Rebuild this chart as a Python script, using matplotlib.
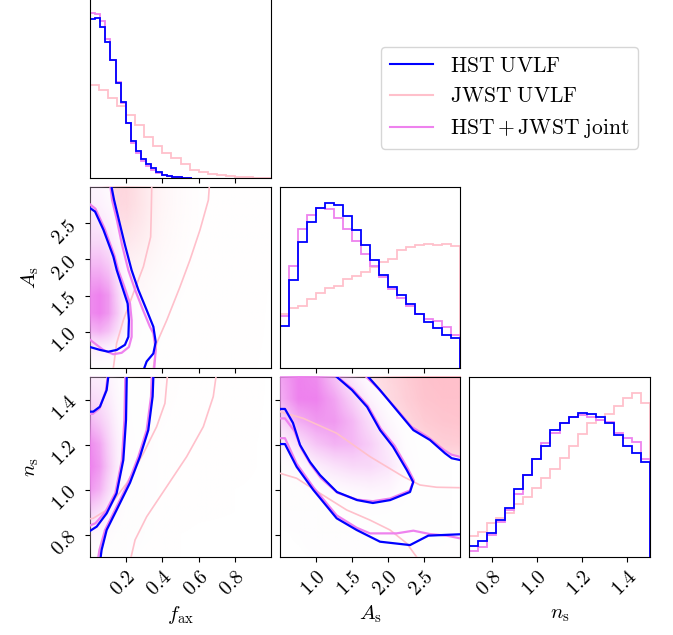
import numpy as np
import matplotlib
matplotlib.use("Agg")
import matplotlib.pyplot as plt
from matplotlib.colors import LinearSegmentedColormap, to_rgba
from matplotlib.image import NonUniformImage
from matplotlib.lines import Line2D
from matplotlib.ticker import FixedLocator, NullLocator, FuncFormatter

plt.rcParams['mathtext.fontset'] = 'cm'

BLUE, PINK, VIOLET = 'blue', 'pink', 'violet'

# parameter ranges and ticks
f_ax_range = (0.0, 1.0)
A_s_range = (0.5, 3.0)
n_s_range = (0.7, 1.5)
f_ax_ticks = [0.2, 0.4, 0.6, 0.8]
A_s_ticks = [1.0, 1.5, 2.0, 2.5]
n_s_ticks = [0.8, 1.0, 1.2, 1.4]

# ---- 1D marginals (20 bins each) ----
hst_f_ax_edges = np.linspace(0.0, 0.565, 21)
jwst_f_ax_edges = np.linspace(0.0, 1.0, 21)
hst_f_ax_hist = [157.7, 159, 150.7, 135.7, 117.3, 94.3, 76, 54.3, 36.7, 26.7,
                 19.3, 14, 10, 5.7, 2.7, 1.7, 1, 0.7, 0.3, 0.3]
jwst_f_ax_hist = [92.3, 87.3, 79.3, 71.7, 63, 53, 41, 31.7, 25, 19.7,
                  13.7, 8.3, 6, 4, 2.7, 1.7, 1, 0.7, 0.3, 0.3]
joint_f_ax_hist = [163.7, 162.7, 155.7, 138.3, 117.3, 95.7, 75, 54.3, 35, 25,
                   16.7, 12.3, 8.3, 5, 2.7, 1.7, 1, 0.7, 0.3, 0.3]

A_s_edges = np.linspace(0.5, 3.0, 21)
hst_A_s_hist = [42.3, 88.3, 125.7, 146, 159.7, 164.3, 162.7, 151.3, 137.3, 123.3,
                108.3, 92.7, 81.3, 72.7, 64, 54.3, 45.7, 39.7, 33, 29.7]
jwst_A_s_hist = [54.3, 60, 62.3, 69.3, 75, 80, 82.3, 89, 92.3, 96,
                 101, 105.7, 109, 117.7, 121, 122.7, 124, 122.7, 124, 121.7]
joint_A_s_hist = [51.7, 101.7, 139, 152.3, 159.3, 159, 149.3, 138.3, 127.3, 114.3,
                  101.7, 91, 79.3, 70, 61.7, 54.3, 49, 46.7, 40.7, 33.3]

n_s_edges = np.linspace(0.7, 1.5, 21)
hst_n_s_hist = [10.7, 16.3, 24, 36.7, 49.3, 67.7, 82.3, 97.7, 110.7, 126.3,
                134, 140, 143.3, 143, 140, 133.3, 121.7, 110.7, 103.3, 95]
jwst_n_s_hist = [20.7, 25.3, 34, 38.7, 44, 52.7, 60, 69, 79, 88.3,
                 98.3, 110.7, 122.7, 133.3, 136.7, 142.7, 151, 158.3, 163.3, 153.3]
joint_n_s_hist = [6.3, 10, 21.7, 35, 46.7, 63.3, 81.7, 98, 113.3, 124,
                  133.3, 140, 141.7, 140, 136.7, 135, 124, 119, 115, 97.3]

# ---- 2D density grids (relative, 0..1) ----
f_ax_nodes = [0.0, 0.05, 0.1, 0.15, 0.2, 0.3, 0.4, 0.6, 1.0]
A_s_nodes = [0.5, 0.75, 1.0, 1.25, 1.5, 1.75, 2.0, 2.25, 2.5, 2.75, 3.0]
n_s_nodes = [0.7, 0.8, 0.9, 1.0, 1.1, 1.2, 1.3, 1.4, 1.5]

# rows follow A_s_nodes, columns follow f_ax_nodes
joint_fA_density = [
    [0.15, 0.15, 0.12, 0.08, 0.04, 0.01, 0, 0, 0],
    [0.35, 0.35, 0.3, 0.2, 0.1, 0.03, 0, 0, 0],
    [0.75, 0.8, 0.7, 0.5, 0.25, 0.06, 0.01, 0, 0],
    [0.95, 1.0, 0.9, 0.65, 0.3, 0.07, 0.01, 0, 0],
    [0.95, 1.0, 0.9, 0.6, 0.28, 0.06, 0.01, 0, 0],
    [0.85, 0.85, 0.75, 0.5, 0.22, 0.05, 0.01, 0, 0],
    [0.7, 0.7, 0.6, 0.4, 0.16, 0.04, 0, 0, 0],
    [0.55, 0.55, 0.45, 0.3, 0.12, 0.03, 0, 0, 0],
    [0.45, 0.42, 0.35, 0.22, 0.09, 0.02, 0, 0, 0],
    [0.35, 0.33, 0.26, 0.16, 0.06, 0.01, 0, 0, 0],
    [0.3, 0.28, 0.2, 0.12, 0.05, 0.01, 0, 0, 0],
]
jwst_fA_density = [
    [0, 0, 0.02, 0.05, 0.07, 0.07, 0.05, 0.02, 0],
    [0, 0.02, 0.05, 0.08, 0.1, 0.1, 0.07, 0.03, 0],
    [0.02, 0.04, 0.08, 0.12, 0.15, 0.15, 0.1, 0.04, 0],
    [0.03, 0.06, 0.12, 0.18, 0.22, 0.2, 0.14, 0.05, 0],
    [0.04, 0.1, 0.18, 0.25, 0.3, 0.27, 0.18, 0.07, 0],
    [0.06, 0.14, 0.25, 0.35, 0.38, 0.34, 0.23, 0.08, 0.01],
    [0.08, 0.2, 0.35, 0.46, 0.5, 0.42, 0.28, 0.1, 0.01],
    [0.1, 0.26, 0.48, 0.6, 0.62, 0.5, 0.32, 0.11, 0.01],
    [0.12, 0.32, 0.6, 0.72, 0.72, 0.56, 0.35, 0.12, 0.01],
    [0.14, 0.36, 0.68, 0.8, 0.78, 0.6, 0.37, 0.12, 0.01],
    [0.14, 0.37, 0.7, 0.82, 0.8, 0.6, 0.37, 0.12, 0.01],
]
# rows follow n_s_nodes, columns follow f_ax_nodes
joint_fn_density = [
    [0.1, 0.08, 0.05, 0.03, 0.01, 0, 0, 0, 0],
    [0.3, 0.25, 0.15, 0.08, 0.03, 0.01, 0, 0, 0],
    [0.6, 0.5, 0.35, 0.18, 0.07, 0.01, 0, 0, 0],
    [0.9, 0.8, 0.55, 0.3, 0.12, 0.02, 0, 0, 0],
    [1.0, 0.9, 0.65, 0.38, 0.15, 0.03, 0, 0, 0],
    [0.95, 0.85, 0.6, 0.36, 0.15, 0.03, 0, 0, 0],
    [0.75, 0.65, 0.5, 0.3, 0.12, 0.02, 0, 0, 0],
    [0.55, 0.5, 0.4, 0.24, 0.1, 0.02, 0, 0, 0],
    [0.4, 0.38, 0.3, 0.2, 0.08, 0.01, 0, 0, 0],
]
jwst_fn_density = [
    [0, 0, 0.01, 0.01, 0.01, 0.01, 0.01, 0, 0],
    [0, 0.01, 0.02, 0.02, 0.03, 0.02, 0.01, 0, 0],
    [0.01, 0.02, 0.03, 0.04, 0.05, 0.04, 0.02, 0.01, 0],
    [0.02, 0.03, 0.05, 0.07, 0.08, 0.07, 0.04, 0.01, 0],
    [0.02, 0.05, 0.08, 0.12, 0.13, 0.11, 0.06, 0.02, 0],
    [0.03, 0.07, 0.12, 0.17, 0.2, 0.17, 0.09, 0.02, 0],
    [0.04, 0.09, 0.16, 0.23, 0.27, 0.23, 0.13, 0.03, 0],
    [0.05, 0.11, 0.2, 0.28, 0.33, 0.3, 0.17, 0.04, 0],
    [0.05, 0.12, 0.22, 0.32, 0.38, 0.35, 0.2, 0.05, 0],
]
# rows follow n_s_nodes, columns follow A_s_nodes
joint_An_density = [
    [0, 0, 0.01, 0.01, 0.01, 0.01, 0.01, 0.01, 0.01, 0, 0],
    [0, 0.01, 0.02, 0.03, 0.04, 0.04, 0.04, 0.03, 0.01, 0.01, 0],
    [0.02, 0.03, 0.05, 0.07, 0.09, 0.1, 0.09, 0.05, 0.02, 0.01, 0],
    [0.04, 0.08, 0.14, 0.2, 0.26, 0.3, 0.28, 0.12, 0.03, 0.01, 0],
    [0.12, 0.22, 0.36, 0.48, 0.55, 0.55, 0.45, 0.2, 0.05, 0.01, 0],
    [0.3, 0.5, 0.68, 0.78, 0.75, 0.62, 0.4, 0.14, 0.04, 0.01, 0],
    [0.55, 0.8, 0.9, 0.9, 0.75, 0.5, 0.25, 0.08, 0.02, 0.01, 0],
    [0.8, 1.0, 1.0, 0.85, 0.6, 0.32, 0.12, 0.04, 0.01, 0, 0],
    [0.85, 1.0, 0.95, 0.7, 0.4, 0.15, 0.05, 0.02, 0.01, 0, 0],
]
jwst_An_density = [
    [0, 0, 0.01, 0.01, 0.01, 0.01, 0.02, 0.02, 0.03, 0.03, 0.03],
    [0, 0.01, 0.01, 0.02, 0.02, 0.03, 0.04, 0.05, 0.06, 0.07, 0.08],
    [0.01, 0.02, 0.03, 0.04, 0.06, 0.08, 0.11, 0.14, 0.17, 0.19, 0.2],
    [0.02, 0.03, 0.05, 0.08, 0.12, 0.17, 0.23, 0.3, 0.36, 0.4, 0.42],
    [0.03, 0.05, 0.09, 0.14, 0.22, 0.31, 0.41, 0.52, 0.6, 0.65, 0.68],
    [0.05, 0.09, 0.15, 0.24, 0.35, 0.46, 0.58, 0.7, 0.8, 0.86, 0.88],
    [0.08, 0.14, 0.22, 0.34, 0.46, 0.58, 0.7, 0.82, 0.9, 0.94, 0.95],
    [0.12, 0.2, 0.3, 0.42, 0.55, 0.67, 0.78, 0.88, 0.95, 0.98, 0.98],
    [0.15, 0.22, 0.32, 0.45, 0.58, 0.7, 0.8, 0.9, 0.97, 1.0, 1.0],
]

# ---- credible-region contours (39% and 86%) ----
# f_ax vs A_s
hst_fA_inner_x = [0.0, 0.028, 0.074, 0.129, 0.148, 0.178, 0.208, 0.215, 0.212, 0.193, 0.148, 0.101, 0.055, 0.0]
hst_fA_inner_y = [2.71, 2.66, 2.41, 2.04, 1.85, 1.62, 1.39, 1.16, 0.93, 0.82, 0.75, 0.725, 0.75, 0.79]
hst_fA_outer_x = [0.119, 0.133, 0.160, 0.193, 0.230, 0.267, 0.313, 0.350, 0.363, 0.350, 0.313, 0.300]
hst_fA_outer_y = [3.0, 2.82, 2.54, 2.20, 1.85, 1.58, 1.30, 1.07, 0.86, 0.70, 0.59, 0.5]
joint_fA_inner_x = [0.0, 0.03, 0.08, 0.135, 0.156, 0.19, 0.221, 0.23, 0.23, 0.215, 0.175, 0.129, 0.073, 0.0]
joint_fA_inner_y = [2.76, 2.70, 2.43, 2.05, 1.85, 1.62, 1.39, 1.16, 0.93, 0.79, 0.71, 0.69, 0.75, 0.89]
joint_fA_outer_x = [0.113, 0.122, 0.149, 0.177, 0.212, 0.249, 0.293, 0.331, 0.350, 0.363, 0.355]
joint_fA_outer_y = [3.0, 2.82, 2.54, 2.20, 1.85, 1.58, 1.30, 1.07, 0.98, 0.75, 0.5]
jwst_fA_inner_x = [0.341, 0.338, 0.335, 0.295, 0.239, 0.184, 0.147, 0.129]
jwst_fA_inner_y = [3.0, 2.6, 2.31, 1.90, 1.53, 1.16, 0.84, 0.5]
jwst_fA_outer_x = [0.659, 0.654, 0.608, 0.552, 0.497, 0.424, 0.368, 0.35]
jwst_fA_outer_y = [3.0, 2.82, 2.41, 1.99, 1.62, 1.16, 0.84, 0.5]

# f_ax vs n_s
hst_fn_inner_a_x = [0.101, 0.092, 0.055, 0.018, 0.0]
hst_fn_inner_a_y = [1.5, 1.442, 1.368, 1.346, 1.346]
hst_fn_inner_b_x = [0.203, 0.199, 0.184, 0.147, 0.092, 0.037, 0.0]
hst_fn_inner_b_y = [1.5, 1.309, 1.131, 0.983, 0.894, 0.835, 0.816]
hst_fn_outer_x = [0.350, 0.346, 0.322, 0.276, 0.221, 0.147, 0.092, 0.064, 0.059]
hst_fn_outer_y = [1.5, 1.413, 1.264, 1.146, 1.03, 0.909, 0.82, 0.731, 0.7]
joint_fn_inner_a_x = [0.097, 0.088, 0.052, 0.015, 0.0]
joint_fn_inner_a_y = [1.5, 1.44, 1.36, 1.336, 1.336]
joint_fn_inner_b_x = [0.195, 0.19, 0.176, 0.14, 0.085, 0.03, 0.0]
joint_fn_inner_b_y = [1.5, 1.31, 1.13, 0.985, 0.9, 0.85, 0.84]
joint_fn_outer_x = [0.341, 0.337, 0.313, 0.267, 0.212, 0.138, 0.083, 0.052, 0.046]
joint_fn_outer_y = [1.5, 1.413, 1.264, 1.146, 1.03, 0.909, 0.82, 0.731, 0.7]
jwst_fn_inner_x = [0.427, 0.414, 0.368, 0.295, 0.203, 0.092, 0.018, 0.0]
jwst_fn_inner_y = [1.5, 1.383, 1.279, 1.161, 1.028, 0.909, 0.872, 0.87]
jwst_fn_outer_x = [0.696, 0.681, 0.626, 0.534, 0.424, 0.313, 0.249, 0.227]
jwst_fn_outer_y = [1.5, 1.413, 1.279, 1.146, 1.013, 0.879, 0.776, 0.7]

# A_s vs n_s
hst_An_inner_x = [0.5, 0.569, 0.68, 0.778, 0.917, 1.056, 1.29, 1.57, 1.79, 2.03, 2.306, 2.35, 2.26, 2.07, 1.89, 1.71, 1.5, 1.29]
hst_An_inner_y = [1.358, 1.358, 1.296, 1.198, 1.122, 1.064, 0.989, 0.953, 0.94, 0.953, 0.989, 1.033, 1.087, 1.19, 1.264, 1.367, 1.442, 1.5]
hst_An_outer_low_x = [0.5, 0.569, 0.731, 0.963, 1.287, 1.565, 1.889, 2.306, 2.56, 3.0]
hst_An_outer_low_y = [1.202, 1.202, 1.101, 0.998, 0.872, 0.82, 0.768, 0.753, 0.795, 0.801]
hst_An_outer_up_x = [1.727, 1.889, 2.12, 2.352, 2.583, 2.792, 2.884, 3.0]
hst_An_outer_up_y = [1.5, 1.442, 1.353, 1.264, 1.22, 1.161, 1.139, 1.131]
joint_An_inner_x = [0.5, 0.569, 0.70, 0.80, 0.93, 1.07, 1.30, 1.57, 1.79, 2.03, 2.30, 2.36, 2.28, 2.09, 1.90, 1.72, 1.51, 1.30]
joint_An_inner_y = [1.316, 1.316, 1.26, 1.18, 1.11, 1.05, 0.985, 0.955, 0.948, 0.96, 0.995, 1.04, 1.09, 1.195, 1.27, 1.372, 1.446, 1.5]
joint_An_outer_low_x = [0.5, 0.569, 0.731, 0.963, 1.287, 1.565, 1.75, 2.12, 2.352, 2.583, 2.815, 3.0]
joint_An_outer_low_y = [1.228, 1.228, 1.115, 1.01, 0.885, 0.83, 0.805, 0.805, 0.817, 0.802, 0.795, 0.783]
joint_An_outer_up_x = [1.70, 1.86, 2.10, 2.33, 2.56, 2.78, 2.88, 3.0]
joint_An_outer_up_y = [1.5, 1.45, 1.365, 1.278, 1.232, 1.175, 1.155, 1.145]
jwst_An_inner_x = [0.5, 0.824, 1.287, 1.75, 2.213, 2.444, 2.676, 3.0]
jwst_An_inner_y = [1.346, 1.316, 1.25, 1.146, 1.057, 1.02, 1.01, 1.008]
jwst_An_outer_x = [0.5, 0.731, 1.056, 1.426, 1.75, 2.028, 2.259, 2.398]
jwst_An_outer_y = [1.072, 1.05, 0.983, 0.909, 0.864, 0.82, 0.761, 0.70]


def density_cmap(color):
    return LinearSegmentedColormap.from_list('d', [(1, 1, 1, 0), to_rgba(color)])


def tick_fmt(v, pos):
    return f'${v:.1f}$'


fig = plt.figure(figsize=(6.73, 6.35), dpi=100)
W, H = 673.0, 635.0
cols = [(90, 271), (280, 460), (469, 650)]
rows = [(-3, 178), (187, 368), (377, 557)]
axes = {}
for i, (top, bot) in enumerate(rows):
    for j, (left, right) in enumerate(cols):
        if j > i:
            continue
        axes[i, j] = fig.add_axes([left / W, 1 - bot / H, (right - left) / W, (bot - top) / H])

ranges = [f_ax_range, A_s_range, n_s_range]
ticks = [f_ax_ticks, A_s_ticks, n_s_ticks]
labels = [r'$f_{\rm ax}$', r'$A_{\rm s}$', r'$n_{\rm s}$']

for (i, j), ax in axes.items():
    ax.set_xlim(*ranges[j])
    ax.xaxis.set_major_locator(FixedLocator(ticks[j]))
    ax.xaxis.set_major_formatter(FuncFormatter(tick_fmt))
    if i == j:
        ax.yaxis.set_major_locator(NullLocator())
    else:
        ax.set_ylim(*ranges[i])
        ax.yaxis.set_major_locator(FixedLocator(ticks[i]))
        ax.yaxis.set_major_formatter(FuncFormatter(tick_fmt))
        if j > 0:
            ax.set_yticklabels([])
    ax.tick_params(labelsize=14.5)
    if i < 2:
        ax.set_xticklabels([])
    else:
        for t in ax.get_xticklabels():
            t.set_rotation(45)
            t.set_horizontalalignment('right')
            t.set_rotation_mode('anchor')
        ax.set_xlabel(labels[j], fontsize=15)
        ax.xaxis.set_label_coords(0.5, -0.26)
    if j == 0 and i > 0:
        for t in ax.get_yticklabels():
            t.set_rotation(45)
        ax.set_ylabel(labels[i], fontsize=15)
        ax.yaxis.set_label_coords(-0.27, 0.5)

# diagonal histograms
hist_sets = [
    (hst_f_ax_edges, jwst_f_ax_edges, hst_f_ax_edges, hst_f_ax_hist, jwst_f_ax_hist, joint_f_ax_hist),
    (A_s_edges, A_s_edges, A_s_edges, hst_A_s_hist, jwst_A_s_hist, joint_A_s_hist),
    (n_s_edges, n_s_edges, n_s_edges, hst_n_s_hist, jwst_n_s_hist, joint_n_s_hist),
]
for k, (e_h, e_j, e_c, h_h, h_j, h_c) in enumerate(hist_sets):
    ax = axes[k, k]
    ax.stairs(h_j, e_j, color=PINK, lw=1.3, baseline=0)
    ax.stairs(h_c, e_c, color=VIOLET, lw=1.3, baseline=0)
    ax.stairs(h_h, e_h, color=BLUE, lw=1.3, baseline=0)
    ax.set_ylim(0, 1.1 * max(max(h_h), max(h_j), max(h_c)))


def add_density(ax, xn, yn, values, color, z):
    im = NonUniformImage(ax, interpolation='bilinear', cmap=density_cmap(color),
                         extent=(xn[0], xn[-1], yn[0], yn[-1]))
    im.set_data(np.asarray(xn, float), np.asarray(yn, float), np.asarray(values, float))
    im.set_clim(0, 1)
    im.set_zorder(z)
    ax.add_image(im)


def panel_2d(ax, xn, yn, jwst_d, joint_d, fill_x, fill_y, pink_lines, violet_lines, blue_lines):
    add_density(ax, xn, yn, jwst_d, PINK, 1)
    # region inside the joint 86% contour is painted white before its own density
    ax.fill(fill_x, fill_y, color='white', lw=0, zorder=2)
    add_density(ax, xn, yn, joint_d, VIOLET, 3)
    for x, y in pink_lines:
        ax.plot(x, y, color=PINK, lw=1.2, zorder=4)
    for x, y in violet_lines:
        ax.plot(x, y, color=VIOLET, lw=1.6, zorder=5)
    for x, y in blue_lines:
        ax.plot(x, y, color=BLUE, lw=1.6, zorder=6)


# f_ax vs A_s
panel_2d(axes[1, 0], f_ax_nodes, A_s_nodes, jwst_fA_density, joint_fA_density,
         joint_fA_outer_x + [0.0, 0.0], joint_fA_outer_y + [0.5, 3.0],
         [(jwst_fA_inner_x, jwst_fA_inner_y), (jwst_fA_outer_x, jwst_fA_outer_y)],
         [(joint_fA_inner_x, joint_fA_inner_y), (joint_fA_outer_x, joint_fA_outer_y)],
         [(hst_fA_inner_x, hst_fA_inner_y), (hst_fA_outer_x, hst_fA_outer_y)])

# f_ax vs n_s
panel_2d(axes[2, 0], f_ax_nodes, n_s_nodes, jwst_fn_density, joint_fn_density,
         joint_fn_outer_x + [0.0, 0.0], joint_fn_outer_y + [0.7, 1.5],
         [(jwst_fn_inner_x, jwst_fn_inner_y), (jwst_fn_outer_x, jwst_fn_outer_y)],
         [(joint_fn_inner_a_x, joint_fn_inner_a_y), (joint_fn_inner_b_x, joint_fn_inner_b_y),
          (joint_fn_outer_x, joint_fn_outer_y)],
         [(hst_fn_inner_a_x, hst_fn_inner_a_y), (hst_fn_inner_b_x, hst_fn_inner_b_y),
          (hst_fn_outer_x, hst_fn_outer_y)])

# A_s vs n_s
panel_2d(axes[2, 1], A_s_nodes, n_s_nodes, jwst_An_density, joint_An_density,
         joint_An_outer_low_x + joint_An_outer_up_x[::-1] + [0.5],
         joint_An_outer_low_y + joint_An_outer_up_y[::-1] + [1.5],
         [(jwst_An_inner_x, jwst_An_inner_y), (jwst_An_outer_x, jwst_An_outer_y)],
         [(joint_An_inner_x, joint_An_inner_y), (joint_An_outer_low_x, joint_An_outer_low_y),
          (joint_An_outer_up_x, joint_An_outer_up_y)],
         [(hst_An_inner_x, hst_An_inner_y), (hst_An_outer_low_x, hst_An_outer_low_y),
          (hst_An_outer_up_x, hst_An_outer_up_y)])

handles = [Line2D([], [], color=BLUE, lw=1.5),
           Line2D([], [], color=PINK, lw=1.5),
           Line2D([], [], color=VIOLET, lw=1.5)]
names = [r'$\mathrm{HST\ UVLF}$', r'$\mathrm{JWST\ UVLF}$', r'$\mathrm{HST + JWST\ joint}$']
fig.legend(handles, names, loc='upper left', bbox_to_anchor=(381 / W, 1 - 47 / H),
           borderaxespad=0, fontsize=15.5)

fig.savefig('out.png', dpi=100)
